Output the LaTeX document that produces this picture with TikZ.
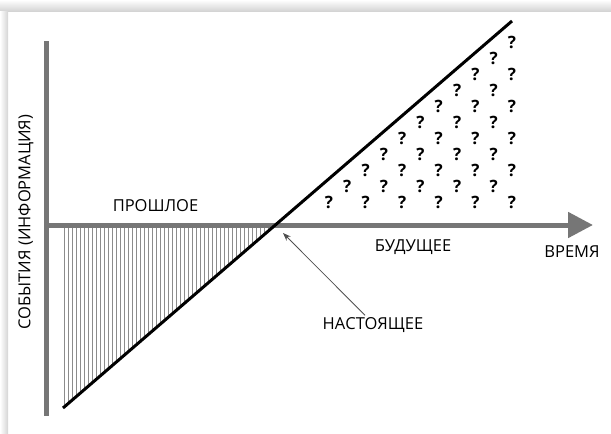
\documentclass[tikz,border=0pt]{standalone}
\usepackage{fontspec}
\setmainfont{Open Sans}
\usepackage{xcolor}
\usepackage{tikz}
\usetikzlibrary{arrows.meta,positioning}
\definecolor{AxisGray}{RGB}{118, 118, 118}
\definecolor{HatchGray}{RGB}{140, 140, 140}
\definecolor{PointerGray}{RGB}{80, 80, 80}
\definecolor{ShadowGray}{RGB}{212, 212, 212}

\begin{document}
\begin{tikzpicture}[x=1pt, y=-1pt,
      every node/.style={inner sep=0pt, font=\fontsize{16}{18}\selectfont},
      axis/.style={line width=5pt, color=AxisGray},
      timeline/.style={line width=3pt, color=black},
      hatch/.style={line width=0.7pt, color=HatchGray},
      pointer/.style={-{Stealth[length=8pt, width=6pt]}, line width=0.8pt, color=PointerGray},
      label/.style={font=\fontsize{16.5}{18}\selectfont},
      unknown/.style={font=\fontsize{17}{19}\selectfont\bfseries}
    ]
      \useasboundingbox (0,0) rectangle (611,434);

      % Card shadow
      \shade[top color=white, bottom color=ShadowGray] (0,0) rectangle (611,11);
      \shade[left color=white, right color=ShadowGray] (0,11) rectangle (8,434);

      % Axis points
      \coordinate (ytop) at (46,41);
      \coordinate (ybot) at (46,416);
      \coordinate (origin) at (46,225);
      \coordinate (tend) at (593,225);
      \coordinate (dlow) at (63,408);
      \coordinate (dhigh) at (512,21);
      \coordinate (now) at (283,233);

      % Hatching of the past
      \foreach \x in {64,68,...,268} {
        \pgfmathsetmacro{\yhit}{408-(\x-63)*0.8619}
        \draw[hatch] (\x,226) -- (\x,\yhit);
      }

      % Axes
      \draw[axis] (ytop) -- (ybot);
      \draw[axis, -{Triangle[length=25pt, width=25pt]}] (origin) -- (tend);
      \draw[timeline] (dlow) -- (dhigh);

      % Unknown future
      \foreach \r in {0,...,10} {
        \foreach \c in {0,...,10} {
          \ifnum\c<\r\relax\else
            \ifodd\numexpr\c-\r\relax\else
              \node[unknown] (q-\r-\c) at ({329+18.3*\c},{202-16*\r}) {?};
            \fi
          \fi
        }
      }

      % Labels
      \node[label] (past) at (155.5,206) {ПРОШЛОЕ};
      \node[label] (future) at (413,247) {БУДУЩЕЕ};
      \node[label] (time) at (572,252) {ВРЕМЯ};
      \node[label] (present) at (373,325) {НАСТОЯЩЕЕ};
      \node[label, rotate=90] (events) at (26,222) {СОБЫТИЯ (ИНФОРМАЦИЯ)};

      % Pointer to the present
      \draw[pointer] ([xshift=-8pt, yshift=2pt]present.north) -- (now);
    \end{tikzpicture}
\end{document}
